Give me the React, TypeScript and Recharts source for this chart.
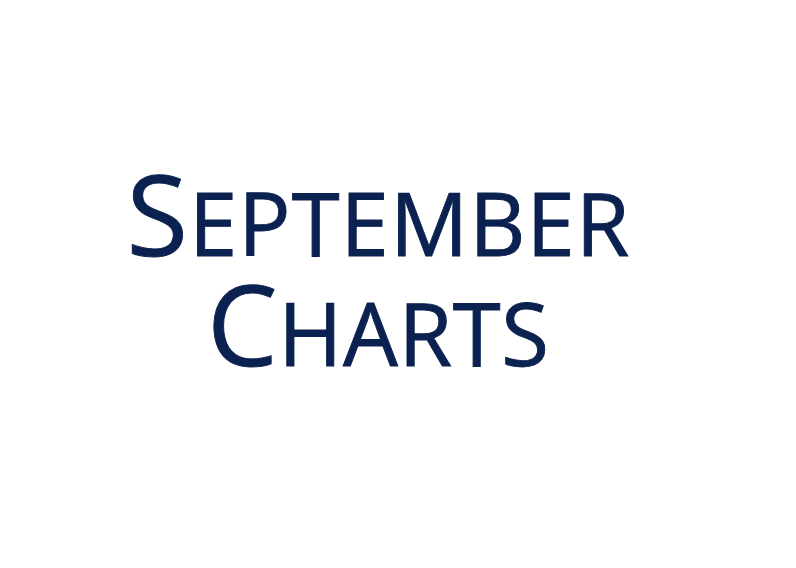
import React from "react";
import { ComposedChart, Customized } from "recharts";

const titleLines: string[] = ["September", "Charts"];
const lineWidths: number[] = [503, 342];
const emptyData: { x: number }[] = [];

const COLOR = "#0b2150";
const FONT = "'Open Sans', sans-serif";

const TitleLayer = () => {
  const baselines = [248, 358];
  return (
    <text
      textAnchor="middle"
      fill={COLOR}
      stroke={COLOR}
      strokeWidth={0.9}
      fontFamily={FONT}
    >
      {titleLines.map((word, i) => (
        <tspan
          key={word}
          x={370}
          y={baselines[i]}
          textLength={lineWidths[i]}
          lengthAdjust="spacing"
        >
          <tspan fontSize={112}>{word.charAt(0).toUpperCase()}</tspan>
          <tspan fontSize={87}>{word.slice(1).toUpperCase()}</tspan>
        </tspan>
      ))}
    </text>
  );
};

export default function App() {
  return (
    <div style={{ width: 780, height: 552, background: "#ffffff" }}>
      <ComposedChart width={780} height={552} data={emptyData} margin={{ top: 0, right: 0, bottom: 0, left: 0 }}>
        <Customized component={<TitleLayer />} />
      </ComposedChart>
    </div>
  );
}
